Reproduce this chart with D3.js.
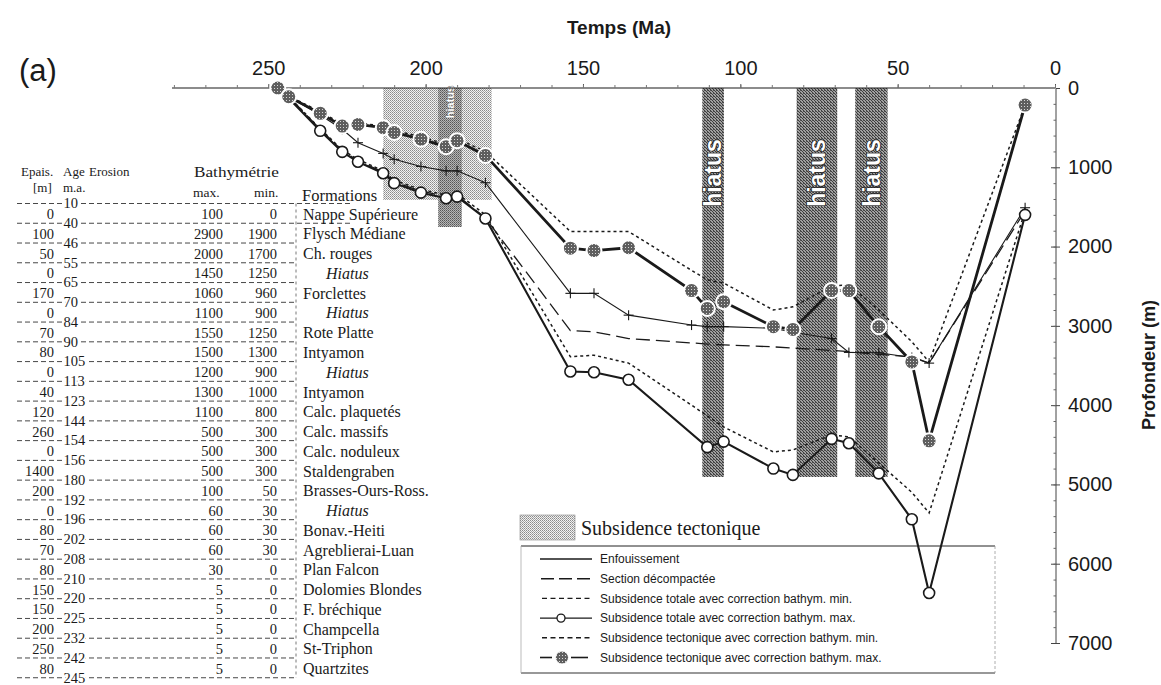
<!DOCTYPE html>
<html><head><meta charset="utf-8">
<script src="https://cdn.jsdelivr.net/npm/d3@7"></script>
<style>body{margin:0;background:#fff}svg{display:block}</style>
</head><body><svg id="c" width="1161" height="685"></svg>
<script>
// ---------- DATA ----------
const ages        = [247, 243.5, 233.5, 226.5, 221.5, 213.5, 210, 201.5, 193.5, 190, 181, 154, 146.5, 135.5, 115.5, 110.5, 105.3, 89.5, 83.3, 71, 65.5, 56, 45.5, 40, 9.5];
const enfouissement = [0, 110, 340, 520, 690, 825, 900, 990, 1045, 1045, 1195, 2590, 2590, 2865, 2990, 3010, 3010, 3030, 3080, 3160, 3335, 3340, 3400, 3470, 1510];
const sectionDecomp = [0, 110, 520, 790, 915, 1060, 1185, 1300, 1370, 1350, 1640, 3060, 3075, 3160, 3215, 3230, 3240, 3265, 3280, 3310, 3325, 3360, 3390, 3470, 1550];
const totaleMin   = [0, 110, 515, 780, 900, 1045, 1165, 1280, 1350, 1330, 1600, 3390, 3370, 3470, 4000, 4135, 4275, 4590, 4565, 4375, 4400, 4730, 5100, 5360, 1550];
const totaleMax   = [0, 130, 540, 805, 930, 1075, 1200, 1320, 1390, 1370, 1645, 3575, 3585, 3680, null, 4530, 4460, 4800, 4880, 4425, 4480, 4860, 5440, 6370, 1600];
const tectMin     = [0, 100, 300, 455, 440, 480, 535, 615, 710, 640, 800, 1810, 1810, 1810, 2300, 2420, 2460, 2800, 2760, 2500, 2480, 2800, 3200, 3455, 215];
const tectMax     = [0, 110, 320, 480, 460, 500, 560, 645, 740, 665, 850, 2020, 2050, 2015, 2555, 2780, 2695, 3010, 3045, 2555, 2555, 3010, 3455, 4450, 215];

const hiatusBands = [[112.1, 105.2], [82.1, 69.2], [63.5, 53.2]];
const tectoBand   = [213.5, 179];
const tectoHiatus = [196, 188.5];

const timeTicks  = [250, 200, 150, 100, 50, 0];
const depthTicks = [0, 1000, 2000, 3000, 4000, 5000, 6000, 7000];

const legendLabels = ["Enfouissement", "Section  décompactée", "Subsidence totale avec correction bathym. min.",
  "Subsidence totale avec correction bathym. max.", "Subsidence tectonique avec correction bathym. min.",
  "Subsidence tectonique avec correction bathym. max."];

// table
const tableAges  = [10, 40, 46, 55, 65, 70, 84, 90, 105, 113, 123, 144, 154, 156, 180, 192, 196, 202, 208, 210, 220, 225, 232, 242, 245];
const epais      = [0, 100, 50, 0, 170, 0, 70, 80, 0, 40, 120, 260, 0, 1400, 200, 0, 80, 70, 80, 150, 150, 200, 250, 80];
const bathyMax   = [100, 2900, 2000, 1450, 1060, 1100, 1550, 1500, 1200, 1300, 1100, 500, 500, 500, 100, 60, 60, 60, 30, 5, 5, 5, 5, 5];
const bathyMin   = [0, 1900, 1700, 1250, 960, 900, 1250, 1300, 900, 1000, 800, 300, 300, 300, 50, 30, 30, 30, 0, 0, 0, 0, 0, 0];
const formations = ["Nappe Supérieure", "Flysch Médiane", "Ch. rouges", "Hiatus", "Forclettes", "Hiatus", "Rote Platte",
  "Intyamon", "Hiatus", "Intyamon", "Calc. plaquetés", "Calc. massifs", "Calc. noduleux", "Staldengraben",
  "Brasses-Ours-Ross.", "Hiatus", "Bonav.-Heiti", "Agreblierai-Luan", "Plan Falcon", "Dolomies Blondes",
  "F. bréchique", "Champcella", "St-Triphon", "Quartzites"];

// ---------- SETUP ----------
const svg = d3.select("#c");
const SANS = "'Liberation Sans', Arial, Helvetica, sans-serif";
const SERIF = "'Liberation Serif', 'Times New Roman', serif";
const INK = "#1a1a1a";

const x = d3.scaleLinear().domain([250, 0]).range([268.3, 1055]);
const y = d3.scaleLinear().domain([0, 7000]).range([88, 643]);

const defs = svg.append("defs");
// light stipple
const pS = defs.append("pattern").attr("id", "stip").attr("width", 2).attr("height", 2).attr("patternUnits", "userSpaceOnUse");
pS.append("rect").attr("width", 2).attr("height", 2).attr("fill", "#f2f2f2");
pS.append("rect").attr("width", 1).attr("height", 1).attr("fill", "#8a8a8a");
pS.append("rect").attr("x", 1).attr("y", 1).attr("width", 1).attr("height", 1).attr("fill", "#a8a8a8");
// dark hatch
const pH = defs.append("pattern").attr("id", "hatch").attr("width", 3).attr("height", 3).attr("patternUnits", "userSpaceOnUse");
pH.append("rect").attr("width", 3).attr("height", 3).attr("fill", "#a0a0a0");
[[0,0],[1,1],[2,2]].forEach(([a,b]) => pH.append("rect").attr("x", a).attr("y", b).attr("width", 1).attr("height", 1).attr("fill", "#3c3c3c"));
pH.append("rect").attr("x", 2).attr("y", 0).attr("width", 1).attr("height", 1).attr("fill", "#555");
// darker stipple for hiatus inside tectonic band
const pD = defs.append("pattern").attr("id", "stipD").attr("width", 2).attr("height", 2).attr("patternUnits", "userSpaceOnUse");
pD.append("rect").attr("width", 2).attr("height", 2).attr("fill", "#b5b5b5");
pD.append("rect").attr("width", 1).attr("height", 1).attr("fill", "#555");
pD.append("rect").attr("x", 1).attr("y", 1).attr("width", 1).attr("height", 1).attr("fill", "#777");
// gray dotted circles
const pG = defs.append("pattern").attr("id", "gdot").attr("width", 3).attr("height", 3).attr("patternUnits", "userSpaceOnUse");
pG.append("rect").attr("width", 3).attr("height", 3).attr("fill", "#5e5e5e");
pG.append("rect").attr("x", 1).attr("y", 1).attr("width", 1).attr("height", 1).attr("fill", "#d8d8d8");

// ---------- BANDS ----------
const gB = svg.append("g");
gB.append("rect").attr("x", x(tectoBand[0])).attr("y", y(0)).attr("width", x(tectoBand[1]) - x(tectoBand[0]))
  .attr("height", 112).attr("fill", "url(#stip)");
gB.append("rect").attr("x", x(tectoHiatus[0])).attr("y", y(0)).attr("width", x(tectoHiatus[1]) - x(tectoHiatus[0]))
  .attr("height", 139).attr("fill", "url(#stipD)");
gB.append("text").attr("transform", `translate(${(x(tectoHiatus[0]) + x(tectoHiatus[1])) / 2},${y(0) + 14}) rotate(-90)`)
  .attr("text-anchor", "middle").attr("dy", "0.35em").attr("font-family", SANS).attr("font-weight", "bold")
  .attr("font-size", 11).attr("fill", "#fff").attr("stroke", "#777").attr("stroke-width", 1).attr("paint-order", "stroke").text("hiatus");

hiatusBands.forEach(b => {
  const x0 = x(b[0]), x1 = x(b[1]);
  gB.append("rect").attr("x", x0).attr("y", y(0)).attr("width", x1 - x0).attr("height", 389).attr("fill", "url(#hatch)");
  gB.append("text").attr("transform", `translate(${(x0 + x1) / 2},173) rotate(-90)`)
    .attr("text-anchor", "middle").attr("dy", "0.36em").attr("font-family", SANS).attr("font-weight", "bold")
    .attr("font-size", 23).attr("fill", "#fff").attr("stroke", "#222").attr("stroke-width", 1.6)
    .attr("paint-order", "stroke").text("hiatus");
});

// ---------- AXES ----------
const gAx = svg.append("g").attr("font-family", SANS);
gAx.append("line").attr("x1", 172).attr("x2", x(0)).attr("y1", y(0)).attr("y2", y(0)).attr("stroke", INK).attr("stroke-width", 1.2);
const topAxis = gAx.append("g").attr("transform", `translate(0,${y(0)})`)
  .call(d3.axisTop(x).tickValues(timeTicks).tickSize(4).tickPadding(9).tickFormat(d3.format("d")));
topAxis.select(".domain").remove();
topAxis.selectAll("text").attr("font-size", 20).attr("fill", INK).attr("font-family", SANS);
topAxis.selectAll("line").attr("stroke", "#555");
const topMinor = gAx.append("g").attr("transform", `translate(0,${y(0)})`)
  .call(d3.axisTop(x).tickValues(d3.range(0, 281, 10)).tickSize(3).tickFormat(""));
topMinor.select(".domain").remove();
topMinor.selectAll("line").attr("stroke", "#777");

const AXX = 1056;
gAx.append("line").attr("x1", AXX).attr("x2", AXX).attr("y1", y(0)).attr("y2", y(7000)).attr("stroke", "#444").attr("stroke-width", 1);
const rightAxis = gAx.append("g").attr("transform", `translate(${AXX},0)`)
  .call(d3.axisRight(y).tickValues(depthTicks).tickSize(4).tickPadding(8).tickFormat(d3.format("d")));
rightAxis.select(".domain").remove();
rightAxis.selectAll("text").attr("font-size", 20).attr("fill", INK).attr("font-family", SANS);
rightAxis.selectAll("line").attr("stroke", "#444");
const leftMaj = gAx.append("g").attr("transform", `translate(${AXX},0)`)
  .call(d3.axisLeft(y).tickValues(depthTicks.slice(1)).tickSize(5).tickFormat(""));
leftMaj.select(".domain").remove();
leftMaj.selectAll("line").attr("stroke", "#444");
const leftMin = gAx.append("g").attr("transform", `translate(${AXX},0)`)
  .call(d3.axisLeft(y).tickValues(d3.range(200, 7000, 200)).tickSize(2.5).tickFormat(""));
leftMin.select(".domain").remove();
leftMin.selectAll("line").attr("stroke", "#666");

svg.append("text").attr("x", 619).attr("y", 34).attr("text-anchor", "middle").attr("font-family", SANS)
  .attr("font-weight", "bold").attr("font-size", 19).attr("fill", INK).text("Temps (Ma)");
svg.append("text").attr("transform", "translate(1149,365) rotate(-90)").attr("text-anchor", "middle").attr("dy", "0.35em")
  .attr("font-family", SANS).attr("font-weight", "bold").attr("font-size", 18).attr("fill", INK).text("Profondeur (m)");
svg.append("text").attr("x", 19).attr("y", 81).attr("font-family", SANS).attr("font-size", 31).attr("fill", INK).text("(a)");

// ---------- SERIES ----------
const pts = vals => ages.map((a, i) => [a, vals[i]]);
const line = d3.line().defined(d => d[1] !== null).x(d => x(d[0])).y(d => y(d[1]));
const gL = svg.append("g").attr("fill", "none");
gL.append("path").attr("d", line(pts(tectMin))).attr("stroke", INK).attr("stroke-width", 1.5).attr("stroke-dasharray", "3,3");
gL.append("path").attr("d", line(pts(totaleMin))).attr("stroke", INK).attr("stroke-width", 1.5).attr("stroke-dasharray", "3,3");
gL.append("path").attr("d", line(pts(sectionDecomp))).attr("stroke", INK).attr("stroke-width", 1.3).attr("stroke-dasharray", "14,6");
gL.append("path").attr("d", line(pts(enfouissement))).attr("stroke", INK).attr("stroke-width", 1.1);
gL.append("path").attr("d", line(pts(totaleMax).filter(d => d[1] !== null))).attr("stroke", INK).attr("stroke-width", 2.1);
gL.append("path").attr("d", line(pts(tectMax))).attr("stroke", INK).attr("stroke-width", 2.8);

// + markers
const gP = svg.append("g").attr("stroke", INK).attr("stroke-width", 1.1);
pts(enfouissement).forEach(d => {
  const cx = x(d[0]), cy = y(d[1]);
  gP.append("line").attr("x1", cx - 5).attr("x2", cx + 5).attr("y1", cy).attr("y2", cy);
  gP.append("line").attr("x1", cx).attr("x2", cx).attr("y1", cy - 5).attr("y2", cy + 5);
});
// open circles
svg.append("g").selectAll("circle").data(pts(totaleMax).filter((d, i) => d[1] !== null && i > 1)).join("circle")
  .attr("cx", d => x(d[0])).attr("cy", d => y(d[1])).attr("r", 5.5)
  .attr("fill", "#fff").attr("stroke", INK).attr("stroke-width", 1.6);
// gray circles
svg.append("g").selectAll("circle").data(pts(tectMax)).join("circle")
  .attr("cx", d => x(d[0])).attr("cy", d => y(d[1])).attr("r", 7.5)
  .attr("fill", "url(#gdot)").attr("stroke", "#fff").attr("stroke-width", 2);

// ---------- LEGEND ----------
const gLg = svg.append("g").attr("font-family", SANS);
gLg.append("rect").attr("x", 520).attr("y", 515).attr("width", 55).attr("height", 25).attr("fill", "url(#stip)")
  .attr("stroke", "#888").attr("stroke-width", 0.6);
gLg.append("text").attr("x", 581).attr("y", 535).attr("font-family", SERIF).attr("font-size", 20).attr("fill", INK).text("Subsidence tectonique");
gLg.append("line").attr("x1", 521).attr("x2", 995).attr("y1", 546).attr("y2", 546).attr("stroke", "#222").attr("stroke-width", 1);
gLg.append("line").attr("x1", 521).attr("x2", 995).attr("y1", 673).attr("y2", 673).attr("stroke", "#333").attr("stroke-width", 1.2);
gLg.append("line").attr("x1", 521).attr("x2", 521).attr("y1", 546).attr("y2", 673).attr("stroke", "#aaa").attr("stroke-width", 0.8);
gLg.append("line").attr("x1", 995).attr("x2", 995).attr("y1", 546).attr("y2", 673).attr("stroke", "#999").attr("stroke-width", 0.8).attr("stroke-dasharray", "3,2");
legendLabels.forEach((lab, i) => {
  const ly = 559 + i * 19.7;
  const g = gLg.append("g");
  if (i === 0) g.append("line").attr("x1", 540).attr("x2", 592).attr("y1", ly).attr("y2", ly).attr("stroke", INK).attr("stroke-width", 1.3);
  if (i === 1) g.append("line").attr("x1", 541).attr("x2", 592).attr("y1", ly).attr("y2", ly).attr("stroke", INK).attr("stroke-width", 1.4).attr("stroke-dasharray", "13,5");
  if (i === 2 || i === 4) g.append("line").attr("x1", 542).attr("x2", 592).attr("y1", ly).attr("y2", ly).attr("stroke", INK).attr("stroke-width", 1.4).attr("stroke-dasharray", "5,3.5");
  if (i === 3) {
    g.append("line").attr("x1", 540).attr("x2", 592).attr("y1", ly).attr("y2", ly).attr("stroke", INK).attr("stroke-width", 1.4);
    g.append("circle").attr("cx", 561).attr("cy", ly).attr("r", 4).attr("fill", "#fff").attr("stroke", INK).attr("stroke-width", 1.3);
  }
  if (i === 5) {
    g.append("line").attr("x1", 540).attr("x2", 552).attr("y1", ly).attr("y2", ly).attr("stroke", INK).attr("stroke-width", 1.6);
    g.append("line").attr("x1", 571).attr("x2", 588).attr("y1", ly).attr("y2", ly).attr("stroke", INK).attr("stroke-width", 1.6);
    g.append("circle").attr("cx", 562).attr("cy", ly).attr("r", 6.5).attr("fill", "url(#gdot)").attr("stroke", "#fff").attr("stroke-width", 1);
  }
  g.append("text").attr("x", 600).attr("y", ly).attr("dy", "0.35em").attr("font-size", 12).attr("fill", INK).text(lab);
});

// ---------- TABLE ----------
const gT = svg.append("g").attr("font-family", SERIF).attr("fill", INK);
const rowY = i => 203.5 + i * 19.76;
const hdr = (t, xx, yy, fs, extra) => { const e = gT.append("text").attr("x", xx).attr("y", yy).attr("font-size", fs).text(t); if (extra) extra(e); return e; };
hdr("Epais.", 21, 176, 13);
hdr("[m]", 33, 192, 13);
hdr("Age", 63, 176, 13);
hdr("m.a.", 63, 192, 13);
hdr("Erosion", 89, 176, 13);
hdr("Bathymétrie", 194, 177, 15.5, e => e.attr("textLength", 85).attr("lengthAdjust", "spacingAndGlyphs"));
hdr("max.", 193, 197, 13.5);
hdr("min.", 254, 197, 13.5);
gT.append("text").attr("x", 302).attr("y", 201).attr("font-size", 16.5).text("Formations");

tableAges.forEach((a, i) => {
  gT.append("line").attr("x1", 17).attr("x2", i < 2 ? 352 : 296).attr("y1", rowY(i)).attr("y2", rowY(i))
    .attr("stroke", "#333").attr("stroke-width", 0.9).attr("stroke-dasharray", "5,3");
});
gT.append("line").attr("x1", 296).attr("x2", 296).attr("y1", rowY(0)).attr("y2", rowY(24))
  .attr("stroke", "#555").attr("stroke-width", 0.8).attr("stroke-dasharray", "3,3");
tableAges.forEach((a, i) => {
  gT.append("text").attr("x", 63.5).attr("y", rowY(i)).attr("dy", "0.33em").attr("font-size", 14.5)
    .attr("stroke", "#fff").attr("stroke-width", 4).attr("paint-order", "stroke").text(a);
});
formations.forEach((f, r) => {
  const cy = (rowY(r) + rowY(r + 1)) / 2 + 1;
  gT.append("text").attr("x", 54).attr("y", cy).attr("dy", "0.33em").attr("text-anchor", "end").attr("font-size", 14.5).text(epais[r]);
  gT.append("text").attr("x", 223).attr("y", cy).attr("dy", "0.33em").attr("text-anchor", "end").attr("font-size", 14.5).text(bathyMax[r]);
  gT.append("text").attr("x", 277).attr("y", cy).attr("dy", "0.33em").attr("text-anchor", "end").attr("font-size", 14.5).text(bathyMin[r]);
  const hi = f === "Hiatus";
  gT.append("text").attr("x", hi ? 326 : 303).attr("y", cy).attr("dy", "0.33em").attr("font-size", 16)
    .attr("font-style", hi ? "italic" : null).text(f);
});
</script></body></html>
